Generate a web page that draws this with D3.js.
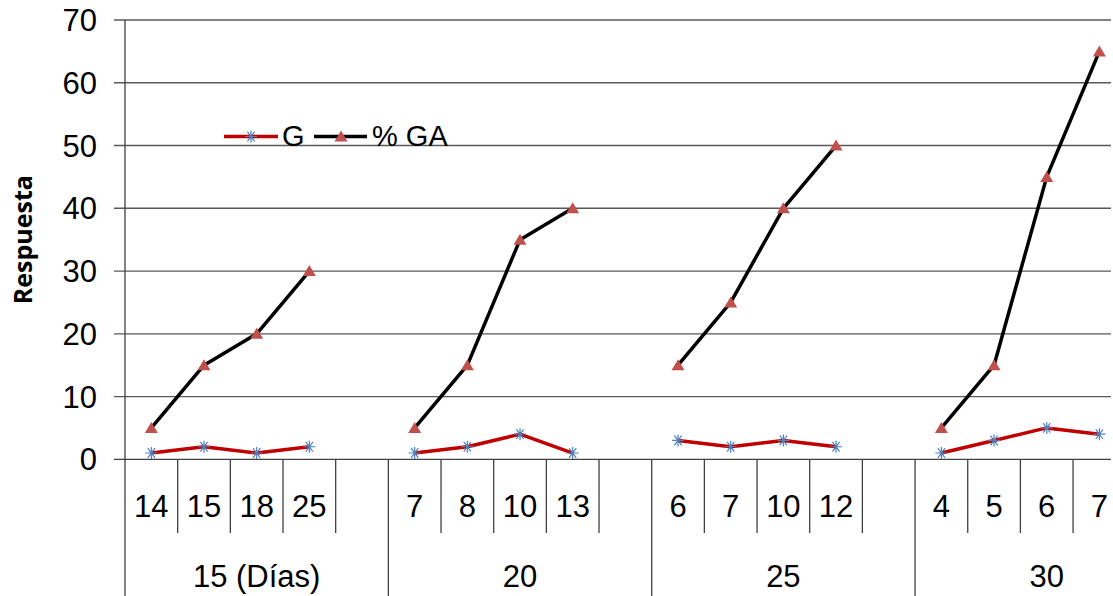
<!DOCTYPE html>
<html>
<head>
<meta charset="utf-8">
<script src="https://cdn.jsdelivr.net/npm/d3@7"></script>
<style>
  html, body { margin: 0; padding: 0; background: #fff; }
  svg { display: block; }
</style>
</head>
<body>
<svg id="chart" width="1113" height="596"></svg>
<script>
// ---- data ----
const groups = ["15 (Días)", "20", "25", "30"];
const subLabels = [["14", "15", "18", "25"], ["7", "8", "10", "13"], ["6", "7", "10", "12"], ["4", "5", "6", "7"]];
const gValues = [[1, 2, 1, 2], [1, 2, 4, 1], [3, 2, 3, 2], [1, 3, 5, 4]];
const gaValues = [[5, 15, 20, 30], [5, 15, 35, 40], [15, 25, 40, 50], [5, 15, 45, 65]];
const yTicks = [0, 10, 20, 30, 40, 50, 60, 70];
const seriesNames = ["G", "% GA"];

// ---- layout ----
const W = 1113, H = 596;
const plotLeft = 125, plotTop = 20, plotBottom = 459.3, clipRight = 1111;
const slotsPerGroup = 5;
const slotW = 52.67;
const font = "'Liberation Sans', Arial, sans-serif";

const svg = d3.select("#chart");

const slotIds = d3.range(groups.length * slotsPerGroup);
const x = d3.scaleBand().domain(slotIds).range([plotLeft, plotLeft + slotIds.length * slotW]).padding(0);
const y = d3.scaleLinear().domain([0, 70]).range([plotBottom, plotTop]);

svg.append("defs").append("clipPath").attr("id", "clip")
  .append("rect").attr("x", 0).attr("y", 0).attr("width", clipRight).attr("height", H);

const g = svg.append("g").attr("clip-path", "url(#clip)");

// gridlines + y ticks
g.selectAll("line.grid").data(yTicks).join("line")
  .attr("class", "grid")
  .attr("x1", plotLeft - 11).attr("x2", clipRight)
  .attr("y1", d => y(d)).attr("y2", d => y(d))
  .attr("stroke", d => d === 0 ? "#404040" : "#595959").attr("stroke-width", 1.3);

svg.selectAll("text.ytick").data(yTicks).join("text")
  .attr("class", "ytick")
  .attr("x", 97).attr("y", d => y(d))
  .attr("dy", "0.36em")
  .attr("text-anchor", "end")
  .attr("font-family", font).attr("font-size", 31).attr("fill", "#000")
  .text(d => d);

// y axis line
g.append("line").attr("x1", plotLeft).attr("x2", plotLeft).attr("y1", plotTop).attr("y2", H)
  .attr("stroke", "#404040").attr("stroke-width", 1.3);

// category separators
const sepSub = [];
const sepGroup = [];
groups.forEach((grp, gi) => {
  for (let s = 1; s <= slotsPerGroup; s++) {
    const id = gi * slotsPerGroup + s;
    const xx = id < slotIds.length ? x(id) : x(id - 1) + x.bandwidth();
    if (s === slotsPerGroup) sepGroup.push(xx); else sepSub.push(xx);
  }
});
g.selectAll("line.sub").data(sepSub).join("line")
  .attr("class", "sub")
  .attr("x1", d => d).attr("x2", d => d).attr("y1", plotBottom).attr("y2", 533)
  .attr("stroke", "#404040").attr("stroke-width", 1.3);
g.selectAll("line.grp").data(sepGroup).join("line")
  .attr("class", "grp")
  .attr("x1", d => d).attr("x2", d => d).attr("y1", plotBottom).attr("y2", H)
  .attr("stroke", "#404040").attr("stroke-width", 1.3);

// sub labels
groups.forEach((grp, gi) => {
  subLabels[gi].forEach((lab, si) => {
    const id = gi * slotsPerGroup + si;
    g.append("text")
      .attr("x", x(id) + x.bandwidth() / 2).attr("y", 517)
      .attr("text-anchor", "middle")
      .attr("font-family", font).attr("font-size", 31).attr("fill", "#000")
      .text(lab);
  });
  const gx0 = x(gi * slotsPerGroup);
  g.append("text")
    .attr("x", gx0 + slotsPerGroup * slotW / 2).attr("y", 587)
    .attr("text-anchor", "middle")
    .attr("font-family", font).attr("font-size", 31).attr("fill", "#000")
    .text(grp);
});

// lines
const line = d3.line().x(d => d[0]).y(d => d[1]);
const redCol = "#c00000", blackCol = "#000000", triCol = "#c0504d", starCol = "#4f81bd";

function pts(vals, gi) {
  return vals.map((v, si) => [x(gi * slotsPerGroup + si) + x.bandwidth() / 2, y(v)]);
}

groups.forEach((grp, gi) => {
  g.append("path").datum(pts(gaValues[gi], gi))
    .attr("d", line).attr("fill", "none").attr("stroke", blackCol).attr("stroke-width", 3.5)
    .attr("stroke-linejoin", "round");
  g.append("path").datum(pts(gValues[gi], gi))
    .attr("d", line).attr("fill", "none").attr("stroke", redCol).attr("stroke-width", 3.5)
    .attr("stroke-linejoin", "round");
});

function triangle(sel, cx, cy) {
  sel.append("path")
    .attr("d", `M${cx},${cy - 6}L${cx + 6.5},${cy + 5}L${cx - 6.5},${cy + 5}Z`)
    .attr("fill", triCol);
}
function star(sel, cx, cy) {
  const r = 6;
  const d = `M${cx - r},${cy}L${cx + r},${cy}M${cx - r * 0.6},${cy - r * 0.8}L${cx + r * 0.6},${cy + r * 0.8}M${cx - r * 0.6},${cy + r * 0.8}L${cx + r * 0.6},${cy - r * 0.8}M${cx},${cy - r}L${cx},${cy + r}`;
  sel.append("path").attr("d", d).attr("stroke", starCol).attr("stroke-width", 1.2).attr("fill", "none");
}

groups.forEach((grp, gi) => {
  pts(gaValues[gi], gi).forEach(p => triangle(g, p[0], p[1]));
  pts(gValues[gi], gi).forEach(p => star(g, p[0], p[1]));
});

// legend
const ly = 136.5;
svg.append("line").attr("x1", 224).attr("x2", 278).attr("y1", ly).attr("y2", ly)
  .attr("stroke", redCol).attr("stroke-width", 3.5);
star(svg, 251, ly);
svg.append("text").attr("x", 282).attr("y", 146).attr("font-family", font).attr("font-size", 29)
  .attr("fill", "#000").text(seriesNames[0]);
svg.append("line").attr("x1", 314).attr("x2", 367).attr("y1", ly).attr("y2", ly)
  .attr("stroke", blackCol).attr("stroke-width", 3.5);
triangle(svg, 341, ly);
svg.append("text").attr("x", 372).attr("y", 146).attr("font-family", font).attr("font-size", 29)
  .attr("fill", "#000").text(seriesNames[1]);

// y title
svg.append("text")
  .attr("transform", `translate(32,${(plotTop + plotBottom) / 2}) rotate(-90)`)
  .attr("text-anchor", "middle")
  .attr("font-family", "'Open Sans', 'DejaVu Sans', sans-serif").attr("font-weight", "bold")
  .attr("font-size", 25).attr("fill", "#000")
  .text("Respuesta");
</script>
</body>
</html>
